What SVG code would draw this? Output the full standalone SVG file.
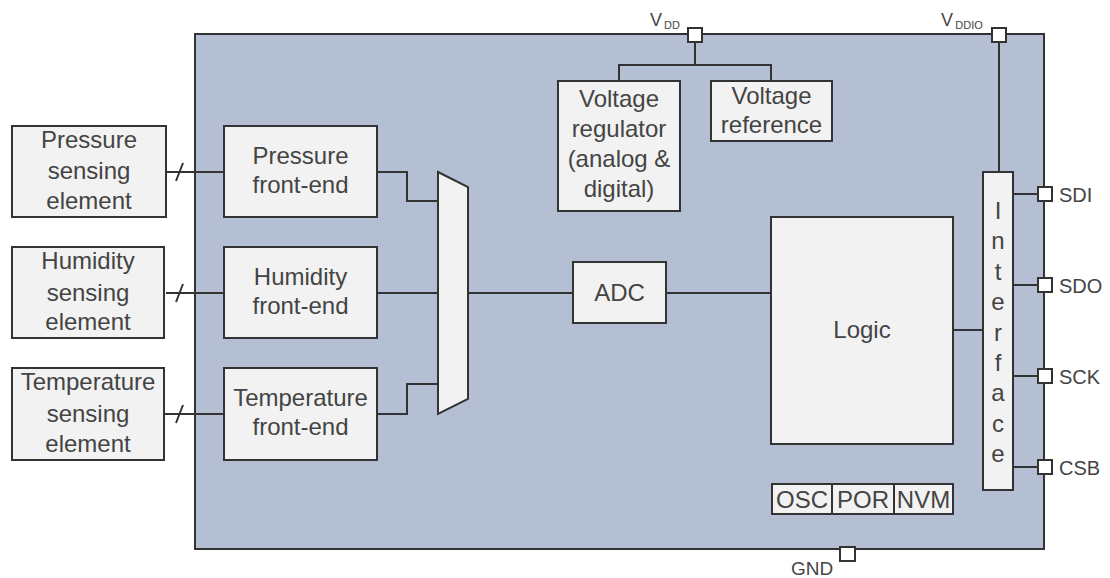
<svg xmlns="http://www.w3.org/2000/svg" width="1110" height="578" viewBox="0 0 1110 578">
<style>
.box{fill:#f2f2f2;stroke:#333;stroke-width:2}
.port{fill:#fff;stroke:#333;stroke-width:2}
.w{fill:none;stroke:#333;stroke-width:2}
text{font-family:"Liberation Sans",Arial,sans-serif;fill:#444;font-size:24px;text-anchor:middle}
.pl{font-size:20px;text-anchor:start}
.sub{font-size:11px}
</style>
<rect x="0" y="0" width="1110" height="578" fill="#fff"/>
<g id="chip"><rect x="195" y="34" width="849" height="515" fill="#b4bfd3" stroke="#333" stroke-width="2"/></g>
<g id="connectors">
<path class="w" d="M166,172H224M166,293H224M164,414H224"/>
<path class="w" d="M176,181L183,163M176,302L183,284M176,423L183,405"/>
<path class="w" d="M377,172H407V201H438M377,293H438M377,414H407V384H438"/>
<path class="w" d="M468,293H573M666,293H771M953,330H983"/>
<path class="w" d="M695,42V65M619,81V65H771V81"/>
<path class="w" d="M999,42V172"/>
<path class="w" d="M1013,194H1038M1013,285H1038M1013,376H1038M1013,467H1038"/>
</g>
<g id="pressure-sensing"><rect class="box" x="12" y="126" width="154" height="91"/><text x="89" y="148">Pressure</text><text x="89" y="179">sensing</text><text x="89" y="209">element</text></g>
<g id="humidity-sensing"><rect class="box" x="12" y="247" width="152" height="91"/><text x="88" y="269">Humidity</text><text x="88" y="301">sensing</text><text x="88" y="330">element</text></g>
<g id="temperature-sensing"><rect class="box" x="12" y="368" width="152" height="92"/><text x="88" y="390">Temperature</text><text x="88" y="422">sensing</text><text x="88" y="452">element</text></g>
<g id="pressure-fe"><rect class="box" x="224" y="126" width="153" height="91"/><text x="300.5" y="164">Pressure</text><text x="300.5" y="193">front-end</text></g>
<g id="humidity-fe"><rect class="box" x="224" y="247" width="153" height="91"/><text x="300.5" y="285">Humidity</text><text x="300.5" y="314">front-end</text></g>
<g id="temperature-fe"><rect class="box" x="224" y="368" width="153" height="92"/><text x="300.5" y="406">Temperature</text><text x="300.5" y="435">front-end</text></g>
<g id="mux"><polygon class="box" points="438,172 468,187 468,399 438,414"/></g>
<g id="adc"><rect class="box" x="573" y="262" width="93" height="61"/><text x="619.5" y="301">ADC</text></g>
<g id="logic"><rect class="box" x="771" y="217" width="182" height="227"/><text x="862" y="338">Logic</text></g>
<g id="regulator"><rect class="box" x="558" y="81" width="122" height="130"/><text x="619" y="107">Voltage</text><text x="619" y="137">regulator</text><text x="619" y="167">(analog &amp;</text><text x="619" y="197">digital)</text></g>
<g id="reference"><rect class="box" x="711" y="81" width="121" height="60"/><text x="771.5" y="104">Voltage</text><text x="771.5" y="133">reference</text></g>
<g id="interface"><rect class="box" x="983" y="172" width="30" height="318"/>
<text x="998" y="219">I</text><text x="998" y="249">n</text><text x="998" y="280">t</text><text x="998" y="310">e</text><text x="998" y="341">r</text><text x="998" y="371">f</text><text x="998" y="401">a</text><text x="998" y="432">c</text><text x="998" y="462">e</text></g>
<g id="osc"><rect class="box" x="772" y="484" width="60" height="30"/><text x="802" y="508">OSC</text></g>
<g id="por"><rect class="box" x="832" y="484" width="62" height="30"/><text x="863" y="508">POR</text></g>
<g id="nvm"><rect class="box" x="894" y="484" width="59" height="30"/><text x="923.5" y="508">NVM</text></g>
<g id="vdd"><rect class="port" x="688" y="28" width="14" height="14"/><text x="656" y="26" style="font-size:18px">V</text><text x="672" y="29" class="sub">DD</text></g>
<g id="vddio"><rect class="port" x="992" y="28" width="14" height="14"/><text x="947" y="26" style="font-size:18px">V</text><text x="969" y="29" class="sub">DDIO</text></g>
<g id="gnd"><rect class="port" x="840" y="547" width="15" height="14"/><text x="812" y="575" style="font-size:19px">GND</text></g>
<g id="sdi"><rect class="port" x="1038" y="187" width="14" height="14"/><text class="pl" x="1059" y="202">SDI</text></g>
<g id="sdo"><rect class="port" x="1038" y="278" width="14" height="14"/><text class="pl" x="1059" y="293">SDO</text></g>
<g id="sck"><rect class="port" x="1038" y="369" width="14" height="14"/><text class="pl" x="1059" y="384">SCK</text></g>
<g id="csb"><rect class="port" x="1038" y="460" width="14" height="14"/><text class="pl" x="1059" y="475">CSB</text></g>
</svg>
